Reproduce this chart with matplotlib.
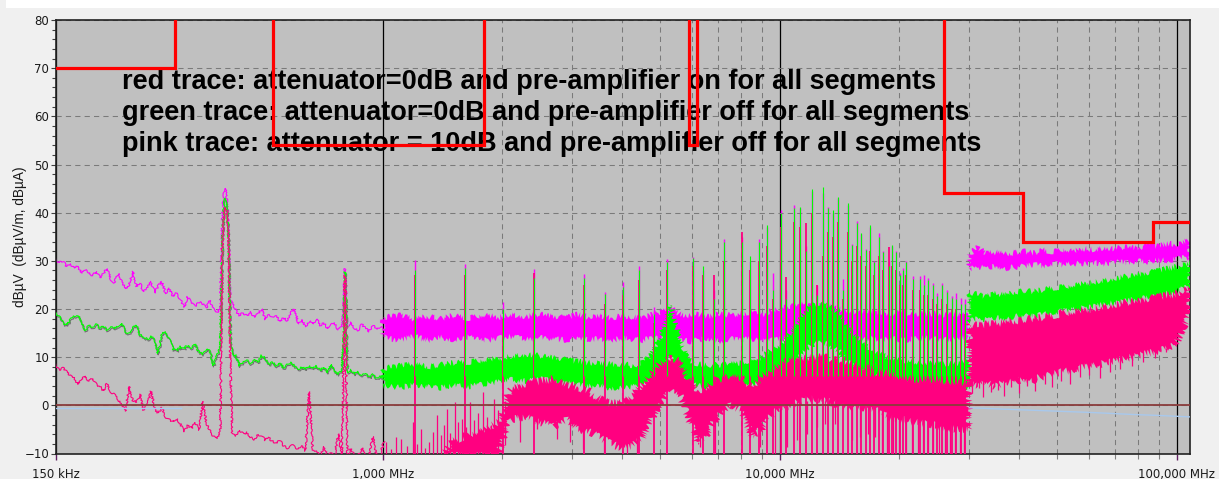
import numpy as np
import matplotlib
matplotlib.use('Agg')
import matplotlib.pyplot as plt
from matplotlib.ticker import FixedLocator, FixedFormatter
from matplotlib.patches import Rectangle
from matplotlib import font_manager as fm
import matplotlib.patheffects as pe

# ---------------- data (MHz / dBuV) ----------------
x_ticks = [0.15, 1.0, 10.0, 100.0]
x_tick_labels = ['150 kHz', '1,000 MHz', '10,000 MHz', '100,000 MHz']
x_minor = [2, 3, 4, 5, 6, 7, 8, 9, 20, 30, 40, 50, 60, 70, 80, 90]
y_ticks = [-10, 0, 10, 20, 30, 40, 50, 60, 70, 80]

annotation_lines = [
    "red trace: attenuator=0dB and pre-amplifier on for all segments",
    "green trace: attenuator=0dB and pre-amplifier off for all segments",
    "pink trace: attenuator = 10dB and pre-amplifier off for all segments",
]
y_label = "dB\u00b5V  (dB\u00b5V/m, dB\u00b5A)"

# limit line (values above 80 leave the chart at the top)
limit_f = [0.15, 0.30, 0.30, 0.53, 0.53, 1.8, 1.8, 5.9, 5.9, 6.2, 6.2, 26, 26, 41, 41, 87, 87, 108]
limit_v = [70, 70, 85, 85, 54, 54, 85, 85, 54, 54, 85, 85, 44, 44, 34, 34, 38, 38]

# low-frequency sweep 0.15 - 1 MHz
f_low = [0.150, 0.153, 0.157, 0.160, 0.164, 0.167, 0.171, 0.174, 0.178, 0.182,
         0.186, 0.190, 0.194, 0.198, 0.202, 0.207, 0.211, 0.216, 0.220, 0.225,
         0.230, 0.235, 0.240, 0.245, 0.250, 0.256, 0.261, 0.267, 0.272, 0.278,
         0.284, 0.290, 0.297, 0.303, 0.310, 0.316, 0.323, 0.330, 0.337, 0.345,
         0.352, 0.360, 0.367, 0.375, 0.383, 0.390, 0.395, 0.399, 0.402, 0.405,
         0.409, 0.413, 0.418, 0.427, 0.436, 0.446, 0.455, 0.465, 0.475, 0.485,
         0.496, 0.506, 0.517, 0.528, 0.540, 0.551, 0.563, 0.575, 0.587, 0.600,
         0.613, 0.626, 0.639, 0.653, 0.667, 0.681, 0.696, 0.711, 0.726, 0.741,
         0.757, 0.773, 0.790, 0.798, 0.802, 0.806, 0.810, 0.815, 0.832, 0.850,
         0.868, 0.887, 0.906, 0.925, 0.945, 0.965, 0.986, 1.007]
mag_low = [30.5, 29.6, 29.9, 28.8, 29.2, 28.4, 28.9, 27.4, 28.1, 27.6,
           26.9, 27.8, 26.5, 27.3, 28.4, 26.1, 25.5, 27.4, 25.8, 24.2,
           25.1, 27.8, 24.7, 25.3, 23.6, 24.6, 25.7, 23.3, 24.8, 25.6,
           23.2, 24.3, 22.6, 23.4, 21.8, 20.4, 22.5, 21.2, 20.6, 21.4,
           21.1, 20.2, 21.8, 19.9, 19.2, 20.5, 40.0, 44.5, 45.0, 43.0,
           38.0, 22.0, 21.2, 19.6, 18.7, 19.2, 18.5, 19.4, 18.2, 19.0,
           20.1, 17.8, 18.9, 18.4, 18.7, 17.4, 18.2, 17.6, 19.2, 20.0,
           16.9, 17.8, 16.3, 17.5, 16.8, 18.0, 16.6, 17.1, 15.9, 16.8,
           17.0, 15.7, 16.5, 20.0, 28.4, 27.5, 20.0, 16.4, 17.2, 16.0,
           15.6, 16.8, 15.9, 15.4, 16.6, 15.7, 16.3, 15.8]
grn_low = [19.4, 18.5, 17.0, 16.6, 17.9, 18.4, 18.7, 17.2, 15.6, 16.5,
           16.3, 16.8, 16.0, 16.4, 15.7, 16.2, 15.9, 16.6, 17.1, 15.2,
           15.0, 16.2, 16.6, 14.6, 14.2, 13.7, 14.4, 13.5, 10.8, 14.9,
           15.2, 13.8, 11.6, 11.3, 12.2, 11.8, 12.5, 11.9, 12.8, 10.9,
           10.7, 11.8, 11.2, 8.3, 10.4, 12.0, 36.0, 42.0, 43.0, 41.0,
           35.0, 14.0, 10.6, 10.3, 8.2, 9.0, 9.4, 8.7, 9.6, 9.0,
           10.4, 9.8, 8.5, 8.9, 8.2, 8.8, 7.8, 8.4, 9.0, 8.1,
           7.5, 8.0, 7.4, 8.3, 7.6, 8.2, 7.3, 7.9, 6.8, 8.5,
           7.0, 6.5, 7.2, 14.0, 27.7, 27.0, 14.0, 6.8, 7.4, 6.5,
           6.9, 6.2, 6.6, 5.9, 6.4, 5.6, 6.0, 5.5]
red_low = [8.7, 7.2, 7.8, 6.9, 6.0, 5.6, 4.4, 5.2, 6.1, 5.0,
           5.6, 4.3, 3.9, 3.0, 4.5, 2.8, 2.2, 1.1, 0.4, -1.2,
           3.9, 1.0, 0.6, 2.3, -1.0, 0.3, 2.9, -0.8, -1.6, -0.5,
           -2.4, -3.0, -3.5, -2.7, -4.0, -5.5, -4.2, -4.8, -3.6, -5.1,
           0.8, -3.8, -5.2, -6.5, -6.9, -5.0, 33.0, 40.0, 41.0, 40.5,
           36.0, 10.0, -5.6, -6.3, -5.2, -6.0, -5.6, -6.6, -7.1, -6.0,
           -6.4, -7.2, -6.8, -7.5, -7.9, -7.3, -8.4, -9.0, -8.1, -8.6,
           -9.1, -8.4, -9.4, 2.8, -9.3, -9.6, -10.5, -8.6, -10.5, -9.8,
           -10.5, -5.9, -10.5, 10.0, 27.0, 26.0, 8.0, -10.5, -9.0, -10.5,
           -10.5, -8.8, -10.5, -10.5, -6.5, -10.5, -10.5, -7.5]

# dense band envelopes 1 - 30 MHz
f_b1 = [1.0, 1.1, 1.2, 1.3, 1.4, 1.5, 1.65, 1.8, 1.95, 2.1,
        2.3, 2.5, 2.7, 2.9, 3.1, 3.3, 3.5, 3.75, 4.0, 4.25,
        4.5, 4.75, 5.0, 5.3, 5.6, 5.9, 6.2, 6.6, 7.0, 7.5,
        8.0, 8.5, 9.0, 9.5, 10.0, 10.7, 11.4, 12.2, 13.0, 14.0,
        15.0, 16.2, 17.5, 19.0, 20.5, 22.0, 24.0, 26.0, 28.0, 30.0]
mag_lo1 = [14.0, 13.6, 14.3, 13.5, 14.1, 13.7, 14.2, 13.4, 13.9, 14.3,
           13.6, 14.1, 13.8, 13.5, 14.2, 13.6, 13.9, 13.3, 14.0, 13.7,
           13.5, 14.0, 13.8, 14.5, 13.9, 13.2, 13.6, 14.0, 13.4, 13.8,
           13.5, 13.9, 13.3, 13.7, 13.8, 14.2, 14.6, 14.9, 14.5, 14.1,
           13.7, 14.0, 13.6, 13.9, 13.5, 13.8, 14.0, 13.6, 13.9, 14.0]
mag_hi1 = [18.2, 18.7, 17.9, 18.5, 18.0, 18.6, 18.1, 18.8, 18.3, 18.9,
           18.4, 19.0, 18.5, 18.2, 18.9, 18.3, 18.7, 18.1, 18.6, 18.4,
           18.0, 18.8, 19.2, 20.3, 19.0, 18.6, 18.9, 18.4, 19.1, 18.7,
           19.0, 19.4, 18.8, 19.6, 20.0, 20.6, 21.0, 20.5, 20.8, 20.0,
           19.5, 19.2, 19.6, 19.0, 19.3, 18.8, 19.1, 18.7, 19.0, 18.6]
grn_lo1 = [4.0, 3.7, 4.2, 3.8, 3.6, 4.1, 3.9, 4.4, 4.8, 5.3,
           5.0, 5.4, 5.1, 4.6, 4.2, 3.9, 4.1, 3.6, 3.8, 3.9,
           4.3, 5.0, 6.0, 10.0, 6.0, 4.5, 4.0, 3.8, 3.7, 3.9,
           4.0, 4.2, 4.6, 5.5, 6.5, 8.0, 11.0, 12.8, 13.0, 11.5,
           8.5, 7.0, 6.0, 5.2, 4.5, 4.2, 4.0, 3.8, 3.9, 3.7]
grn_hi1 = [7.6, 8.2, 8.6, 8.0, 8.4, 8.8, 9.0, 9.4, 9.8, 10.2,
           10.6, 10.3, 10.0, 9.5, 9.1, 8.8, 8.9, 8.5, 8.6, 8.3,
           8.8, 10.5, 14.0, 21.0, 14.0, 9.5, 8.6, 8.3, 8.4, 8.6,
           8.8, 9.0, 10.0, 11.5, 12.5, 15.0, 19.0, 21.0, 21.0, 19.5,
           15.5, 13.0, 11.0, 10.0, 9.3, 9.0, 8.9, 8.6, 8.8, 9.0]
red_lo1 = [-11, -11, -11, -11, -11, -10.5, -10.5, -10.5, -10.5, -3.0,
           -2.5, -3.5, -4.5, -3.0, -5.0, -5.5, -6.5, -8.0, -8.8, -8.5,
           -7.0, -3.0, 0.4, 3.0, 2.0, -3.0, -8.0, -6.0, -2.0, 0.0,
           -1.0, -6.5, -5.0, -2.0, -1.0, 0.0, 1.0, 1.5, 1.0, 0.0,
           -1.0, -0.5, -1.0, -2.5, -3.0, -3.5, -4.0, -4.5, -5.0, -5.0]
red_hi1 = [-11, -11, -11, -11, -11, -7.5, -6.0, -5.0, -3.5, 3.5,
           4.5, 5.0, 5.5, 4.5, 3.7, 3.0, 1.5, 0.4, 0.5, 2.0,
           4.5, 6.5, 8.6, 10.0, 9.0, 5.5, 3.0, 4.0, 5.5, 5.8,
           5.8, 3.7, 6.0, 7.3, 8.5, 9.5, 10.0, 10.0, 10.0, 9.5,
           9.0, 8.0, 7.0, 6.5, 5.8, 5.5, 5.5, 5.0, 5.0, 4.5]

# dense band envelopes 30 - 108 MHz
f_b2 = [30.0, 31.5, 33, 35, 37, 39, 41, 43.5, 46, 49, 52, 55,
        58, 62, 66, 70, 75, 80, 85, 90, 95, 100, 104, 108]
mag_lo2 = [28.3, 28.8, 28.5, 28.9, 28.4, 28.7, 28.9, 29.2, 29.0, 29.4, 29.1, 29.5,
           29.3, 29.6, 29.4, 29.8, 29.6, 30.0, 29.8, 30.2, 30.0, 30.4, 30.6, 30.8]
mag_hi2 = [31.3, 32.8, 31.5, 31.8, 31.4, 31.7, 32.0, 31.6, 32.2, 31.9, 32.4, 32.0,
           32.6, 32.3, 32.8, 32.5, 33.0, 32.7, 33.2, 33.0, 33.6, 33.4, 34.0, 34.5]
grn_lo2 = [17.5, 18.0, 17.8, 18.2, 18.0, 18.4, 18.6, 18.5, 18.9, 19.2, 19.6, 19.9,
           20.2, 20.6, 21.0, 21.3, 21.7, 22.1, 22.5, 22.9, 23.3, 23.8, 24.2, 24.8]
grn_hi2 = [23.5, 23.0, 22.6, 23.2, 22.9, 23.5, 23.8, 23.6, 24.0, 24.4, 24.6, 25.0,
           25.3, 25.6, 26.0, 26.4, 26.8, 27.2, 27.6, 28.0, 28.4, 28.8, 29.3, 29.6]
red_lo2 = [4.5, 4.0, 4.8, 3.8, 5.0, 4.6, 5.5, 5.2, 6.0, 6.5, 7.0, 7.3,
           7.8, 8.2, 8.8, 9.2, 9.8, 10.3, 10.8, 11.3, 12.0, 13.0, 16.0, 19.0]
red_hi2 = [17.0, 16.5, 16.8, 17.0, 17.2, 17.5, 17.8, 18.0, 18.3, 18.7, 19.2, 19.5,
           19.8, 20.2, 20.6, 21.0, 21.4, 21.8, 22.2, 22.5, 22.8, 23.2, 24.0, 24.5]

# harmonic spikes (peak levels per trace)
spk_f = [1.208, 1.615, 2.015, 2.41, 3.22, 3.63, 4.02, 4.42, 4.83, 5.21,
         6.04, 6.42, 6.83, 7.24, 8.02, 8.41, 8.85, 9.27, 9.61, 10.05,
         10.4, 10.86, 11.24, 11.64, 12.05, 12.4, 12.87, 13.27, 13.63, 14.06,
         14.46, 14.87, 15.25, 15.67, 16.07, 16.47, 16.93, 17.3, 17.74, 18.2,
         18.8, 19.23, 19.68, 20.05, 20.5, 20.84, 21.66, 22.5, 23.06, 23.7,
         24.3, 24.9, 25.7, 26.4, 27.1, 27.8, 28.6, 29.3]
spk_mag = [30.1, 29.4, 21.4, 28.4, 27.3, 23.5, 25.6, 28.9, 20.4, 30.3,
           30.7, 28.0, 24.0, 34.5, 35.0, 30.0, 34.5, 37.0, 27.4, 40.5,
           24.0, 41.5, 41.0, 33.0, 44.5, 25.0, 44.0, 41.2, 40.0, 43.0,
           26.3, 41.5, 33.5, 38.2, 35.5, 32.5, 37.0, 30.0, 35.8, 32.0,
           30.0, 33.0, 32.0, 27.5, 28.5, 30.0, 26.8, 26.8, 27.0, 26.5,
           25.5, 23.3, 25.5, 24.0, 22.7, 23.3, 22.2, 22.0]
spk_grn = [28.0, 28.5, 20.0, 26.5, 26.5, 23.2, 24.5, 28.0, 19.0, 29.8,
           30.5, 29.0, 22.0, 33.9, 34.0, 31.0, 34.0, 37.4, 24.0, 40.0,
           22.0, 41.0, 41.2, 32.0, 45.0, 23.0, 45.3, 41.0, 40.5, 43.3,
           24.0, 42.0, 33.2, 37.8, 35.7, 32.2, 37.4, 29.8, 35.0, 31.8,
           29.0, 33.2, 31.8, 27.0, 28.0, 29.8, 26.3, 26.3, 25.0, 26.0,
           25.0, 22.8, 25.0, 23.5, 22.2, 22.0, 21.0, 21.0]
spk_red = [27.0, 27.0, 18.0, 27.4, 25.0, 21.0, 23.0, 26.0, 17.0, 28.0,
           29.0, 27.0, 27.0, 30.0, 35.9, 28.0, 30.0, 33.0, 22.0, 37.0,
           26.6, 38.0, 37.0, 37.8, 40.0, 25.0, 31.0, 36.0, 35.0, 38.0,
           22.0, 36.0, 30.0, 33.0, 31.0, 29.0, 32.0, 27.0, 31.0, 28.0,
           32.9, 29.0, 28.0, 25.0, 25.0, 27.0, 24.0, 24.0, 23.0, 23.0,
           22.0, 21.0, 22.0, 21.0, 20.0, 20.0, 19.0, 19.0]

# red-trace grass 1 - 2 MHz (tops) and downward dips (bottoms)
red_grass_f = [1.02, 1.05, 1.08, 1.11, 1.15, 1.19, 1.22, 1.25, 1.28, 1.31,
               1.34, 1.37, 1.40, 1.43, 1.45, 1.48, 1.52, 1.55, 1.58, 1.62,
               1.66, 1.70, 1.74, 1.79, 1.83, 1.87, 1.91, 1.95]
red_grass_top = [-7.6, -9.0, -6.5, -7.0, -8.5, -3.4, -8.0, -4.9, -8.8, -7.6,
                 -5.5, -2.1, -6.2, -4.0, -0.7, -5.8, 0.6, -3.5, -2.8, -4.5,
                 0.6, -3.0, -1.5, 2.7, -2.5, -4.0, 1.3, -1.0]
red_dip_f = [2.03, 2.22, 2.45, 2.75, 2.97, 3.20, 3.60, 4.12, 4.37, 6.30,
             6.87, 8.41, 8.92, 9.72, 10.42, 11.05, 11.70, 12.40, 13.00, 13.80,
             15.20, 15.95, 16.70, 17.40, 18.10, 18.60, 19.30, 20.00, 20.80, 21.60,
             22.30, 23.00, 23.70, 24.30, 25.20, 26.10, 26.80, 27.60, 28.50, 29.10]
red_dip_lo = [-8.3, -7.6, -4.9, -7.0, -7.6, -9.0, -10.5, -10.5, -10.0, -8.7,
              -10.5, -6.6, -8.7, -10.5, -8.7, -7.3, -5.9, -4.5, -3.8, -3.8,
              -7.3, -6.6, -5.9, -6.6, -10.5, -10.5, -10.5, -10.5, -10.5, -10.5,
              -10.5, -10.5, -10.5, -10.5, -10.5, -10.5, -10.5, -10.5, -10.5, -10.5]
red_dip2_f = [30.5, 31.8, 32.6, 34.0, 35.5, 36.8, 38.2, 40.0, 42.0, 44.0, 46.5, 48.5,
              51.0, 54.0, 57.0, 60.0, 64.0, 68.0, 72.0, 77.0, 82.0, 88.0, 94.0]
red_dip2_lo = [2.5, 3.5, 1.8, 2.8, 3.2, 2.0, 3.8, 2.6, 4.0, 3.0, 4.5, 3.8,
               5.0, 4.4, 5.8, 6.3, 5.6, 7.0, 7.5, 8.2, 9.0, 9.8, 11.0]

# reference lines
zero_f = [0.15, 108]
zero_v = [0, 0]
blue1_f = [0.15, 0.31]
blue1_v = [-0.6, -0.6]
blue2_f = [30, 39.7, 61.5, 77.6, 90, 108]
blue2_v = [-0.5, -0.9, -1.5, -1.9, -2.1, -2.4]

# ---------------- styling ----------------
W, H = 1219, 479
C_MAG, C_GRN, C_RED, C_LIM = '#ff00ff', '#00ff00', '#ff0080', '#ff0000'


def pick_bold_font():
    for name in ['Liberation Sans', 'Arimo', 'Roboto', 'Noto Sans', 'Open Sans', 'DejaVu Sans']:
        for f in fm.fontManager.ttflist:
            w = f.weight
            if isinstance(w, str):
                w = {'bold': 700, 'semibold': 600, 'demibold': 600, 'heavy': 800}.get(w, 400)
            low = f.fname.lower()
            if (f.name == name and 600 <= w <= 750 and f.style == 'normal'
                    and 'narrow' not in low and 'condensed' not in low):
                return fm.FontProperties(fname=f.fname)
    return fm.FontProperties(family='DejaVu Sans', weight='bold')


fig = plt.figure(figsize=(W / 100, H / 100), dpi=100, facecolor='#f0f0f0')
fig.patches.append(Rectangle((6 / W, 1 - 8 / H), 1, 8 / H, transform=fig.transFigure,
                             facecolor='white', edgecolor='none'))
ax = fig.add_axes([55.5 / W, 25.5 / H, 1134.5 / W, 433.5 / H])
ax.set_facecolor('#c0c0c0')
ax.set_xscale('log')
ax.set_xlim(0.15, 108)
ax.set_ylim(-10, 80)

ax.xaxis.set_major_locator(FixedLocator(x_ticks))
ax.xaxis.set_major_formatter(FixedFormatter(x_tick_labels))
ax.xaxis.set_minor_locator(FixedLocator(x_minor))
ax.xaxis.set_minor_formatter(FixedFormatter([''] * len(x_minor)))
ax.yaxis.set_major_locator(FixedLocator(y_ticks))
ax.yaxis.set_minor_locator(FixedLocator(list(range(-10, 81, 2))))

ax.grid(axis='y', which='major', ls=(0, (5, 4)), color='#7a7a7a', lw=0.75, zorder=1)
ax.grid(axis='x', which='minor', ls=(0, (5, 4)), color='#7a7a7a', lw=0.75, zorder=1)
ax.grid(axis='x', which='major', ls='-', color='black', lw=0.9, zorder=1)
ax.set_axisbelow(True)

ax.tick_params(axis='x', which='major', length=4.5, width=1, color='#602060',
               labelsize=8.5, pad=6, labelcolor='#1a1a1a', labelfontfamily='DejaVu Sans')
ax.tick_params(axis='x', which='minor', length=3.5, width=0.8, color='#808080')
ax.tick_params(axis='y', which='major', length=3.8, width=0.8, color='#404040',
               labelsize=8.5, pad=0.8, labelcolor='#1a1a1a', labelfontfamily='DejaVu Sans')
ax.tick_params(axis='y', which='minor', length=3.2, width=0.8, color='#404040')
for s in ax.spines.values():
    s.set_color('#222222')
    s.set_linewidth(1.2)

NOISE = (3.0, 1.5, 16.0)        # sketch style for dense bands (pixels)
LINE_NOISE = (1.0, 1.5, 16.0)   # sketch style for thin sweep lines (pixels)


def band(f, lo, hi, color, z, noise=NOISE):
    xs = list(f) + list(f)[::-1]
    ys = list(hi) + list(lo)[::-1]
    p, = ax.fill(xs, ys, color=color, lw=0, zorder=z)
    p.set_sketch_params(*noise)
    return p


# pink (magenta) trace
ln, = ax.plot(f_low, mag_low, color=C_MAG, lw=0.8, zorder=2)
ln.set_sketch_params(*LINE_NOISE)
band(f_b1, mag_lo1, mag_hi1, C_MAG, 2)
band(f_b2, mag_lo2, mag_hi2, C_MAG, 2)
ax.vlines(spk_f, 15, spk_mag, colors=C_MAG, lw=1.0, zorder=2.1)

# green trace
ln, = ax.plot(f_low, grn_low, color=C_GRN, lw=0.8, zorder=3,
              path_effects=[pe.SimpleLineShadow(offset=(0.5, -1.0), shadow_color='#707070', alpha=1.0),
                            pe.Normal()])
ln.set_sketch_params(*LINE_NOISE)
band(f_b1, grn_lo1, grn_hi1, C_GRN, 3)
band(f_b2, grn_lo2, grn_hi2, C_GRN, 3)

# red (crimson) trace
ax.vlines(spk_f, -10.5, spk_red, colors=C_RED, lw=1.3, zorder=3.5)
ln, = ax.plot(f_low, red_low, color=C_RED, lw=0.8, zorder=4)
ln.set_sketch_params(*LINE_NOISE)
ax.vlines(red_grass_f, -10.5, red_grass_top, colors=C_RED, lw=0.9, zorder=4)
band(f_b1, red_lo1, red_hi1, C_RED, 4, (4.0, 1.5, 16.0))
band(f_b2, red_lo2, red_hi2, C_RED, 4, (4.0, 1.5, 16.0))
ax.vlines(red_dip_f, red_dip_lo, 1.0, colors=C_RED, lw=0.9, zorder=4)
ax.vlines(red_dip2_f, red_dip2_lo, 12.0, colors=C_RED, lw=0.9, zorder=4)

# green spikes on top
ax.vlines(spk_f, 6, spk_grn, colors=C_GRN, lw=0.8, zorder=4.5)

# reference lines
ax.plot(blue1_f, blue1_v, color='#a8c8ec', lw=1.0, zorder=4.8)
ax.plot(blue2_f, blue2_v, color='#a8c8ec', lw=1.0, zorder=4.8)
ax.plot(zero_f, zero_v, color='#8a3c3c', lw=1.3, zorder=5)

# annotation text (under the limit line), width fitted to the reference
bold_fp = pick_bold_font()
texts = []
for i, s in enumerate(annotation_lines):
    t = ax.text(122 / W, 1 - (89.3 + 30.7 * i) / H, s, transform=fig.transFigure,
                fontproperties=bold_fp, fontsize=16.4,
                va='baseline', ha='left', color='black', zorder=6)
    texts.append(t)
fig.canvas.draw()
w0 = texts[0].get_window_extent().width
size = 16.4 * 811.0 / w0
for t in texts:
    t.set_fontsize(size)

# limit line
ax.plot(limit_f, limit_v, color=C_LIM, lw=2.3, zorder=7, solid_joinstyle='miter')

fig.text(20 / W, 1 - 237 / H, y_label, rotation=90, ha='center', va='center',
         fontsize=9.8, family='Liberation Sans', color='#1a1a1a')

fig.savefig('out.png', dpi=100, facecolor=fig.get_facecolor())
